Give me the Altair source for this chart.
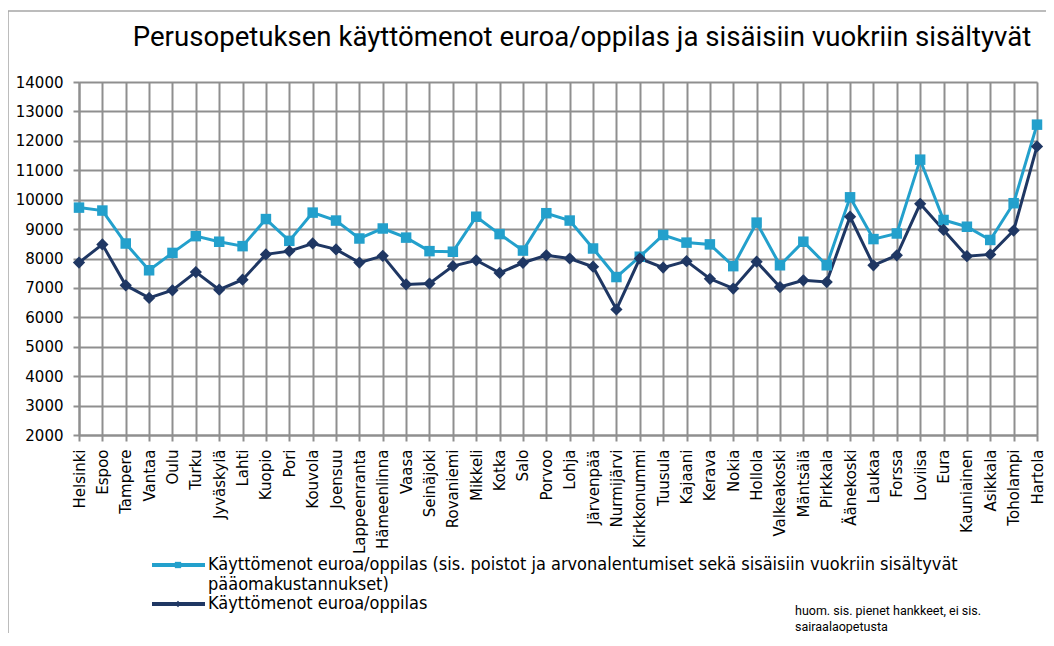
import altair as alt
import pandas as pd

cities = ["Helsinki", "Espoo", "Tampere", "Vantaa", "Oulu", "Turku", "Jyväskylä", "Lahti",
          "Kuopio", "Pori", "Kouvola", "Joensuu", "Lappeenranta", "Hämeenlinna", "Vaasa",
          "Seinäjoki", "Rovaniemi", "Mikkeli", "Kotka", "Salo", "Porvoo", "Lohja", "Järvenpää",
          "Nurmijärvi", "Kirkkonummi", "Tuusula", "Kajaani", "Kerava", "Nokia", "Hollola",
          "Valkeakoski", "Mäntsälä", "Pirkkala", "Äänekoski", "Laukaa", "Forssa", "Loviisa",
          "Eura", "Kauniainen", "Asikkala", "Toholampi", "Hartola"]

with_rent = [9730, 9630, 8510, 7600, 8190, 8760, 8570, 8420, 9340, 8600, 9560, 9290, 8680,
             9020, 8710, 8250, 8230, 9420, 8830, 8270, 9540, 9290, 8340, 7370, 8060, 8800,
             8540, 8480, 7740, 9220, 7770, 8570, 7770, 10080, 8660, 8850, 11360, 9310, 9080,
             8630, 9880, 12550]

basic = [7860, 8480, 7090, 6660, 6920, 7540, 6940, 7280, 8140, 8250, 8510, 8310, 7860,
         8090, 7120, 7150, 7740, 7940, 7510, 7855, 8110, 8000, 7720, 6270, 8000, 7690,
         7910, 7310, 6980, 7890, 7030, 7260, 7200, 9420, 7770, 8110, 9860, 8970, 8080,
         8140, 8950, 11810]

series_keys = ["with_rent", "basic"]
legend_labels = ["Käyttömenot euroa/oppilas (sis. poistot ja arvonalentumiset sekä sisäisiin vuokriin sisältyvät",
                 "pääomakustannukset)",
                 "Käyttömenot euroa/oppilas"]
title_text = "Perusopetuksen käyttömenot euroa/oppilas ja sisäisiin vuokriin sisältyvät"
note_lines = ["huom. sis. pienet hankkeet, ei sis.", "sairaalaopetusta"]
y_ticks = [2000, 3000, 4000, 5000, 6000, 7000, 8000, 9000, 10000, 11000, 12000, 13000, 14000]

LIGHT = "#23a0cc"
DARK = "#1f3763"
GRID = "#8f8f8f"
LEG_FONT = "'DejaVu Sans Condensed', 'DejaVu Sans'"

rows = []
for c, a, b in zip(cities, with_rent, basic):
    rows.append({"city": c, "series": "with_rent", "value": a})
    rows.append({"city": c, "series": "basic", "value": b})
df = pd.DataFrame(rows)

PL, PT = 71, 74
W, H = 958, 353

x_enc = alt.X("city:N", sort=cities, title=None,
              scale=alt.Scale(type="point", padding=0),
              axis=alt.Axis(labelAngle=270, labelFont="DejaVu Sans", labelFontSize=15,
                            labelColor="#000000", labelPadding=8, tickSize=6,
                            tickColor=GRID, tickWidth=2, domainColor=GRID, domainWidth=2,
                            grid=True, gridColor=GRID, gridWidth=2, labelBaseline="middle"))
y_enc = alt.Y("value:Q", title=None,
              scale=alt.Scale(domain=[2000, 14000], nice=False, zero=False),
              axis=alt.Axis(values=y_ticks, labelOverlap=False, labelFont="DejaVu Sans",
                            labelFontSize=15, labelColor="#000000", labelPadding=10,
                            tickSize=6, tickColor=GRID, tickWidth=2, domainColor=GRID,
                            domainWidth=2, grid=True, gridColor=GRID, gridWidth=2, format="d"))
color_enc = alt.Color("series:N", scale=alt.Scale(domain=series_keys, range=[LIGHT, DARK]),
                      legend=None)

base = alt.Chart(df)
lines = base.mark_line(strokeWidth=3).encode(x=x_enc, y=y_enc, color=color_enc,
                                               detail="series:N")
points = base.mark_point(filled=True, opacity=1).encode(
    x=x_enc,
    y=y_enc,
    color=color_enc,
    shape=alt.Shape("series:N", scale=alt.Scale(domain=series_keys, range=["square", "diamond"]),
                    legend=None),
    size=alt.Size("series:N", scale=alt.Scale(domain=series_keys, range=[110, 150]), legend=None),
)

one = alt.Data(values=[{"k": 1}])

def deco_text(text, x, y, size, font, color="#000000", align="left", baseline="middle"):
    return alt.Chart(one).mark_text(align=align, baseline=baseline, font=font, fontSize=size,
                                    color=color).encode(x=alt.value(x), y=alt.value(y),
                                                        text=alt.value(text))

def deco_rule(x, x2, y, y2, color, width):
    return alt.Chart(one).mark_rule(color=color, strokeWidth=width).encode(
        x=alt.value(x), x2=alt.value(x2), y=alt.value(y), y2=alt.value(y2))

def deco_point(x, y, shape, color, size):
    return alt.Chart(one).mark_point(shape=shape, filled=True, color=color, size=size,
                                     opacity=1).encode(x=alt.value(x), y=alt.value(y))

# positions relative to plot's top-left corner (abs x 79, abs y 82)
frame_top = deco_rule(-71, W + 9, -71, -71, "#a6a6a6", 1.5)
frame_left = deco_rule(-71, -71, -71, H + 198, "#a6a6a6", 1.5)

title = deco_text(title_text, 503, -44, 27.6, "Roboto", align="center")

leg1_line = deco_rule(73, 126, 483, 483, LIGHT, 4)
leg1_pt = deco_point(99, 483, "square", LIGHT, 40)
leg1_t1 = deco_text(legend_labels[0], 129, 483, 18, LEG_FONT)
leg1_t2 = deco_text(legend_labels[1], 129, 503, 18, LEG_FONT)
leg2_line = deco_rule(73, 126, 522, 522, DARK, 4)
leg2_pt = deco_point(99, 522, "diamond", DARK, 40)
leg2_t = deco_text(legend_labels[2], 129, 522, 18, LEG_FONT)

note1 = deco_text(note_lines[0], 716, 529, 12.5, "Roboto")
note2 = deco_text(note_lines[1], 716, 545, 12.5, "Roboto")

chart = alt.layer(lines, points, frame_top, frame_left, title, leg1_line, leg1_pt, leg1_t1,
                  leg1_t2, leg2_line, leg2_pt, leg2_t, note1, note2).properties(
    width=W, height=H,
    autosize=alt.AutoSizeParams(type="none"),
    padding={"left": PL, "top": PT, "right": 9, "bottom": 198},
).configure_view(stroke=None).configure(background="#ffffff")

chart.save("out.html", embed_options={"renderer": "svg", "actions": False})
